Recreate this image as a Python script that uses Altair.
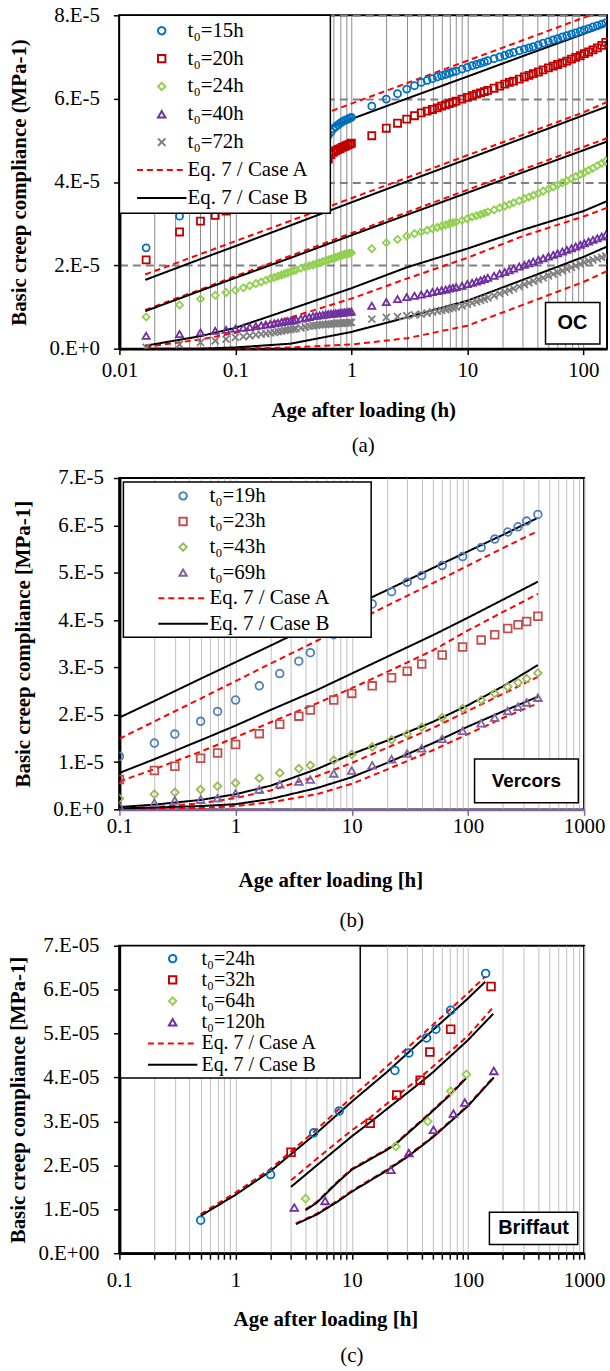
import altair as alt
import pandas as pd

SERIF = "Liberation Serif"
SANS = "Liberation Sans"
CASE_A = "Eq. 7 / Case A"
CASE_B = "Eq. 7 / Case B"
LINE_PATH = "M-6.7,0L6.7,0"
X_PATH = "M-1,-1L1,1M-1,1L1,-1"
NBSP = "\u00a0"
ZWSP = "\u200b"

# ---------------- Panel (a): OC  (compliance in 1e-5 MPa^-1) ----------------
A_LABELS = ["t₀=15h", "t₀=20h", "t₀=24h", "t₀=40h", "t₀=72h"]
A_COLORS = ["#0070C0", "#C00000", "#92D050", "#7030A0", "#7F7F7F"]
A_SHAPES = ["circle", "square", "diamond", "triangle-up", X_PATH]
A_TIME = [0.017, 0.033, 0.05, 0.067, 0.083, 0.1, 0.117, 0.133, 0.15, 0.167,
          0.183, 0.2, 0.217, 0.233, 0.25, 0.267, 0.283, 0.3, 0.317, 0.333,
          0.367, 0.4, 0.433, 0.467, 0.5, 0.533, 0.567, 0.6, 0.633, 0.667,
          0.7, 0.733, 0.767, 0.8, 0.833, 0.867, 0.9, 0.933, 0.967, 1.0,
          1.5, 2, 2.5, 3, 3.5, 4, 4.5, 5, 5.5, 6, 6.5, 7, 7.5, 8, 9, 10,
          11, 12, 13, 14, 15, 17, 19, 21, 23, 25, 28, 31, 34, 37, 41, 45,
          50, 55, 60, 66, 72, 79, 86, 94, 102, 111, 121, 132, 144, 156]
A_15H = [2.42, 3.18, 3.55, 3.72, 3.86, 3.97, 4.06, 4.13, 4.2, 4.26,
         4.31, 4.36, 4.41, 4.45, 4.49, 4.53, 4.56, 4.6, 4.63, 4.66,
         4.72, 4.78, 4.83, 4.88, 4.93, 4.97, 5.02, 5.07, 5.12, 5.2,
         5.28, 5.33, 5.37, 5.41, 5.44, 5.47, 5.49, 5.51, 5.53, 5.55,
         5.82, 5.99, 6.12, 6.23, 6.31, 6.39, 6.44, 6.48, 6.52, 6.55, 6.58, 6.61, 6.64, 6.66, 6.71, 6.75,
         6.79, 6.82, 6.85, 6.88, 6.91, 6.96, 7.0, 7.04, 7.08, 7.11, 7.15, 7.19, 7.22, 7.25, 7.29, 7.33,
         7.37, 7.41, 7.44, 7.48, 7.51, 7.55, 7.58, 7.62, 7.65, 7.68, 7.72, 7.75, 7.79, 7.82]
A_20H = [2.13, 2.80, 3.06, 3.2, 3.3, 3.4, 3.48, 3.55, 3.61, 3.66,
         3.71, 3.76, 3.8, 3.84, 3.88, 3.91, 3.94, 3.97, 4.0, 4.03,
         4.09, 4.15, 4.2, 4.25, 4.3, 4.35, 4.4, 4.46, 4.55, 4.66,
         4.71, 4.75, 4.78, 4.8, 4.83, 4.85, 4.87, 4.89, 4.91, 4.93,
         5.11, 5.29, 5.41, 5.51, 5.59, 5.66, 5.70, 5.74, 5.78, 5.82, 5.85, 5.88, 5.91, 5.94, 5.99, 6.03,
         6.07, 6.11, 6.14, 6.17, 6.20, 6.25, 6.30, 6.35, 6.39, 6.42, 6.47, 6.52, 6.56, 6.60, 6.64, 6.69,
         6.74, 6.78, 6.82, 6.86, 6.90, 6.95, 6.99, 7.03, 7.08, 7.12, 7.17, 7.22, 7.28, 7.35]
A_24H = [0.76, 1.05, 1.19, 1.28, 1.35, 1.40, 1.46, 1.51, 1.56, 1.6,
         1.64, 1.68, 1.71, 1.74, 1.77, 1.8, 1.82, 1.85, 1.87, 1.89,
         1.93, 1.96, 1.99, 2.01, 2.04, 2.06, 2.09, 2.11, 2.13, 2.15,
         2.17, 2.19, 2.21, 2.23, 2.24, 2.26, 2.27, 2.28, 2.29, 2.30,
         2.40, 2.54, 2.62, 2.70, 2.76, 2.80, 2.84, 2.88, 2.91, 2.94, 2.97, 3.00, 3.02, 3.04, 3.08, 3.12,
         3.16, 3.19, 3.22, 3.25, 3.28, 3.33, 3.38, 3.42, 3.46, 3.50, 3.55, 3.60, 3.64, 3.68, 3.73, 3.78,
         3.83, 3.88, 3.93, 3.98, 4.03, 4.08, 4.13, 4.18, 4.23, 4.28, 4.33, 4.39, 4.45, 4.50]
A_40H = [0.31, 0.35, 0.39, 0.43, 0.45, 0.48, 0.5, 0.52, 0.54, 0.56,
         0.58, 0.59, 0.61, 0.62, 0.64, 0.65, 0.66, 0.67, 0.68, 0.7,
         0.72, 0.74, 0.76, 0.78, 0.79, 0.8, 0.81, 0.82, 0.83, 0.84,
         0.84, 0.85, 0.85, 0.86, 0.86, 0.87, 0.87, 0.88, 0.88, 0.89,
         1.03, 1.12, 1.19, 1.24, 1.27, 1.30, 1.33, 1.36, 1.38, 1.40, 1.42, 1.44, 1.46, 1.48, 1.51, 1.55,
         1.58, 1.61, 1.64, 1.67, 1.70, 1.75, 1.80, 1.84, 1.88, 1.92, 1.97, 2.01, 2.05, 2.09, 2.13, 2.17,
         2.21, 2.25, 2.29, 2.33, 2.37, 2.41, 2.45, 2.49, 2.53, 2.57, 2.61, 2.65, 2.69, 2.73]
A_72H = [0.03, 0.10, 0.15, 0.19, 0.23, 0.27, 0.29, 0.31, 0.33, 0.35,
         0.36, 0.38, 0.39, 0.41, 0.42, 0.44, 0.45, 0.46, 0.47, 0.48,
         0.5, 0.52, 0.54, 0.55, 0.56, 0.57, 0.58, 0.58, 0.59, 0.59,
         0.6, 0.6, 0.61, 0.61, 0.61, 0.62, 0.62, 0.62, 0.63, 0.63,
         0.71, 0.75, 0.77, 0.79, 0.81, 0.83, 0.85, 0.88, 0.90, 0.92, 0.94, 0.96, 0.98, 1.00, 1.03, 1.07,
         1.10, 1.13, 1.16, 1.19, 1.22, 1.27, 1.32, 1.36, 1.40, 1.44, 1.49, 1.54, 1.58, 1.62, 1.66, 1.70,
         1.75, 1.79, 1.83, 1.87, 1.91, 1.95, 1.99, 2.03, 2.07, 2.10, 2.13, 2.16, 2.19, 2.22]
A_LINE_T = [0.0167, 0.05, 0.1, 0.3, 1, 3, 10, 30, 100, 160]
A_15H_A = [4.05, 4.54, 4.85, 5.34, 5.88, 6.37, 6.91, 7.40, 7.94, 8.15]
A_15H_B = [3.70, 4.19, 4.49, 4.98, 5.51, 6.00, 6.53, 7.02, 7.55, 7.76]
A_20H_A = [1.78, 2.27, 2.58, 3.07, 3.61, 4.10, 4.64, 5.13, 5.67, 5.92]
A_20H_B = [1.65, 2.15, 2.46, 2.96, 3.51, 4.01, 4.55, 5.05, 5.60, 5.81]
A_24H_A = [0.93, 1.42, 1.74, 2.23, 2.77, 3.27, 3.81, 4.30, 4.84, 5.05]
A_24H_B = [0.90, 1.39, 1.70, 2.18, 2.72, 3.21, 3.74, 4.23, 4.76, 4.97]
A_40H_A = [0.04, 0.22, 0.38, 0.75, 1.20, 1.68, 2.18, 2.70, 3.17, 3.38]
A_40H_B = [0.07, 0.30, 0.50, 0.95, 1.45, 1.95, 2.40, 2.85, 3.30, 3.54]
A_72H_A = [0.0, 0.0, 0.0, 0.03, 0.10, 0.25, 0.55, 1.05, 1.60, 1.86]
A_72H_B = [0.0, 0.0, 0.03, 0.12, 0.40, 0.75, 1.15, 1.65, 2.20, 2.45]

# ---------------- Panel (b): Vercors ----------------
B_LABELS = ["t₀=19h", "t₀=23h", "t₀=43h", "t₀=69h"]
B_COLORS = ["#4F81BD", "#C0504D", "#9BBB59", "#8064A2"]
B_SHAPES = ["circle", "square", "diamond", "triangle-up"]
B_TIME = [0.1, 0.2, 0.3, 0.5, 0.7, 1, 1.6, 2.4, 3.5, 4.4, 7, 10, 15, 22, 30, 40, 60, 90, 130, 170, 220, 270, 320, 400]
B_19H = [1.12, 1.40, 1.59, 1.86, 2.07, 2.31, 2.61, 2.87, 3.13, 3.31, 3.69, 4.02, 4.34, 4.60, 4.80, 4.94, 5.15, 5.34, 5.53, 5.71, 5.86, 5.97, 6.09, 6.23]
B_23H = [0.63, 0.82, 0.91, 1.08, 1.19, 1.37, 1.60, 1.80, 1.97, 2.10, 2.31, 2.45, 2.61, 2.78, 2.92, 3.07, 3.26, 3.43, 3.58, 3.69, 3.82, 3.90, 3.97, 4.08]
B_43H = [0.23, 0.32, 0.36, 0.42, 0.49, 0.56, 0.66, 0.77, 0.86, 0.93, 1.04, 1.16, 1.32, 1.47, 1.59, 1.74, 1.94, 2.13, 2.31, 2.45, 2.59, 2.68, 2.76, 2.88]
B_69H = [0.07, 0.14, 0.19, 0.21, 0.24, 0.34, 0.42, 0.53, 0.59, 0.63, 0.76, 0.82, 0.93, 1.06, 1.18, 1.29, 1.49, 1.66, 1.82, 1.94, 2.08, 2.17, 2.26, 2.36]
B_LINE_T = [0.1, 0.2, 0.5, 1, 2, 5, 10, 20, 50, 100, 200, 400]
B_19H_A = [1.49, 1.86, 2.34, 2.71, 3.08, 3.56, 3.93, 4.30, 4.78, 5.15, 5.52, 5.88]
B_19H_B = [1.94, 2.29, 2.76, 3.11, 3.46, 3.93, 4.28, 4.63, 5.10, 5.45, 5.80, 6.16]
B_23H_A = [0.59, 0.85, 1.22, 1.52, 1.84, 2.24, 2.56, 2.90, 3.36, 3.78, 4.17, 4.55]
B_23H_B = [0.77, 1.06, 1.46, 1.77, 2.10, 2.52, 2.87, 3.22, 3.68, 4.05, 4.43, 4.81]
B_43H_A = [0.02, 0.05, 0.13, 0.24, 0.40, 0.70, 0.98, 1.30, 1.72, 2.08, 2.44, 2.80]
B_43H_B = [0.05, 0.10, 0.20, 0.32, 0.50, 0.85, 1.17, 1.45, 1.85, 2.20, 2.60, 3.05]
B_69H_A = [0.00, 0.01, 0.03, 0.07, 0.15, 0.32, 0.54, 0.84, 1.25, 1.59, 1.93, 2.24]
B_69H_B = [0.02, 0.04, 0.07, 0.11, 0.22, 0.45, 0.68, 0.98, 1.40, 1.75, 2.07, 2.38]

# ---------------- Panel (c): Briffaut ----------------
C_LABELS = ["t₀=24h", "t₀=32h", "t₀=64h", "t₀=120h"]
C_COLORS = ["#0070C0", "#C00000", "#92D050", "#7030A0"]
C_SHAPES = ["circle", "square", "diamond", "triangle-up"]
C_24H_T = [0.5, 2, 4.7, 7.8, 23.5, 31, 44, 53, 71, 142]
C_24H = [0.75, 1.79, 2.74, 3.24, 4.16, 4.56, 4.90, 5.10, 5.53, 6.37]
C_32H_T = [3, 14.4, 24.4, 38.8, 47, 71, 158]
C_32H = [2.30, 2.96, 3.60, 3.94, 4.58, 5.10, 6.07]
C_64H_T = [4, 24, 45, 71, 97]
C_64H = [1.24, 2.43, 3.00, 3.69, 4.07]
C_120H_T = [3.2, 5.9, 21.7, 31, 50.5, 75, 94, 167]
C_120H = [1.04, 1.19, 1.90, 2.28, 2.81, 3.18, 3.43, 4.15]
C_24H_LT = [0.5, 1, 2, 5, 10, 20, 50, 100, 141]
C_24H_A = [0.89, 1.38, 1.92, 2.82, 3.55, 4.25, 5.20, 5.92, 6.30]
C_24H_B = [0.85, 1.33, 1.87, 2.74, 3.45, 4.12, 5.08, 5.80, 6.18]
C_32H_LT = [3, 5, 10, 14.4, 20, 38.8, 50, 100, 165]
C_32H_A = [1.66, 2.15, 2.80, 3.09, 3.40, 4.00, 4.25, 4.95, 5.60]
C_32H_B = [1.51, 2.00, 2.66, 2.98, 3.28, 3.88, 4.12, 4.85, 5.45]
C_64H_LT = [4, 5, 7.6, 10, 20, 24, 45, 70, 97]
C_64H_A = [1.00, 1.17, 1.64, 1.92, 2.37, 2.51, 3.15, 3.62, 4.01]
C_64H_B = [0.98, 1.15, 1.62, 1.90, 2.35, 2.49, 3.13, 3.60, 3.99]
C_120H_LT = [3.3, 5, 7.6, 10, 20, 30, 50, 100, 167]
C_120H_A = [0.68, 0.90, 1.20, 1.42, 1.90, 2.21, 2.66, 3.37, 4.02]
C_120H_B = [0.66, 0.88, 1.18, 1.40, 1.88, 2.19, 2.64, 3.35, 4.00]


def points_frame(labels, times, values):
    rows = []
    for lab, ts, vs in zip(labels, times, values):
        for t, v in zip(ts, vs):
            rows.append({"t": t, "c": v, "key": lab})
    return pd.DataFrame(rows)


def lines_frame(labels, times, a_vals, b_vals):
    rows = []
    for kind, vals in ((CASE_A, a_vals), (CASE_B, b_vals)):
        for lab, ts, vs in zip(labels, times, vals):
            for t, v in zip(ts, vs):
                rows.append({"t": t, "c": v, "key": kind, "curve": kind + lab})
    return pd.DataFrame(rows)


def minor_values(lo_exp, hi_exp, last):
    vals = []
    for e in range(lo_exp, hi_exp + 1):
        for m in range(1, 10):
            v = round(m * 10 ** e, 6)
            if v <= last:
                vals.append(v)
    return vals


DECADES = "[0.01, 0.1, 1, 10, 100, 1000]"


def build_panel(p):
    domain = p["labels"] + [CASE_A, CASE_B]
    n = len(p["labels"])
    color_scale = alt.Scale(domain=domain, range=p["colors"] + ["#FF0000", "#000000"])
    shape_scale = alt.Scale(domain=domain, range=p["shapes"] + [LINE_PATH, LINE_PATH])
    dash_scale = alt.Scale(domain=domain, range=[[1, 0]] * n + [[6, 4], [1, 0]])
    leg = alt.Legend(
        title=None, orient="none", legendX=p["legX"], legendY=p["legY"],
        fillColor="white", strokeColor="black", padding=p["legPad"],
        rowPadding=p["rowPad"], labelFont=SERIF, labelFontSize=p["legFont"],
        labelColor="black", labelLimit=500, symbolSize=55, symbolStrokeWidth=2,
        symbolOffset=p["symOff"], labelOffset=p["labOff"], symbolFillColor="transparent",
        labelExpr="datum.label + '" + NBSP * p["nbsp"] + ZWSP + "'",
    )
    xs = alt.Scale(type="log", domain=p["xdomain"], nice=False)
    ys = alt.Scale(domain=[0, p["ymax"]], nice=False)
    tick_cond = {"condition": {"test": "indexof(" + DECADES + ", datum.value) >= 0", "value": 1},
                 "value": p["minorTickOpacity"]}
    xaxis = alt.Axis(
        values=p["xvalues"], grid=True, gridColor=p["gridColor"], gridWidth=1,
        labelExpr="indexof(" + DECADES + ", datum.value) >= 0 ? '' + datum.value : ''",
        labelOverlap=False, labelFlush=False, labelFont=SERIF, labelFontSize=21,
        labelColor="black", labelPadding=p["xLabPad"], tickColor=p["xAxisColor"],
        tickOpacity=tick_cond, tickSize=6, tickWidth=1.5,
        domainColor=p["xAxisColor"], domainWidth=2.5,
        titleFont=SERIF, titleFontSize=21, titleFontWeight="bold", titleColor="black",
        titlePadding=p["xTitlePad"], titleX=p["xTitleX"],
    )
    yaxis = alt.Axis(
        values=list(range(0, p["ymax"] + 1, p["ystep"])), grid=p["ygrid"],
        gridColor="#808080", gridDash=[8, 5], gridWidth=2,
        labelExpr="datum.value == 0 ? '" + p["zero"] + "' : datum.value + '" + p["suffix"] + "'",
        labelFlush=False, labelFont=SERIF, labelFontSize=21, labelColor="black",
        labelPadding=p["yLabPad"], tickColor="black", tickSize=6, tickWidth=1.5,
        domainColor="black", domainWidth=3,
        titleFont=SERIF, titleFontSize=21, titleFontWeight="bold", titleColor="black",
        titlePadding=p["yTitlePad"],
    )
    x = alt.X("t:Q", scale=xs, axis=xaxis, title=p["xtitle"])
    y = alt.Y("c:Q", scale=ys, axis=yaxis, title=p["ytitle"])
    lines = alt.Chart(p["lines"]).mark_line(clip=True, strokeWidth=2).encode(
        x=x, y=y,
        color=alt.Color("key:N", scale=color_scale, legend=leg),
        strokeDash=alt.StrokeDash("key:N", scale=dash_scale, legend=leg),
        detail="curve:N",
    )
    pts = alt.Chart(p["points"]).mark_point(
        filled=False, size=p["ptSize"], strokeWidth=1.8, opacity=1, clip=True
    ).encode(
        x=x, y=y,
        color=alt.Color("key:N", scale=color_scale, legend=leg),
        shape=alt.Shape("key:N", scale=shape_scale, legend=leg),
    )
    box_df = pd.DataFrame([p["box"]])
    box = alt.Chart(box_df).mark_rect(fill="white", stroke="black", strokeWidth=1.5).encode(
        x=alt.X("x0:Q", scale=xs, axis=xaxis, title=p["xtitle"]), x2="x1:Q",
        y=alt.Y("y0:Q", scale=ys, axis=yaxis, title=p["ytitle"]), y2="y1:Q",
    )
    txt = alt.Chart(box_df).mark_text(font=SANS, fontWeight="bold", fontSize=p["boxFont"],
                                      color="black").encode(
        x=alt.X("xm:Q", scale=xs, axis=xaxis, title=p["xtitle"]),
        y=alt.Y("ym:Q", scale=ys, axis=yaxis, title=p["ytitle"]),
        text="label:N",
    )
    return alt.layer(lines, pts, box, txt).properties(
        width=p["w"], height=p["h"],
        title=alt.TitleParams(p["caption"], orient="bottom", font=SERIF, fontSize=21,
                              fontWeight="normal", color="black", offset=p["capOff"]),
    )


panel_a = build_panel(dict(
    labels=A_LABELS, colors=A_COLORS, shapes=A_SHAPES,
    points=points_frame(A_LABELS, [A_TIME] * 5, [A_15H, A_20H, A_24H, A_40H, A_72H]),
    lines=lines_frame(A_LABELS, [A_LINE_T] * 5,
                      [A_15H_A, A_20H_A, A_24H_A, A_40H_A, A_72H_A],
                      [A_15H_B, A_20H_B, A_24H_B, A_40H_B, A_72H_B]),
    xdomain=[0.01, 160], xvalues=minor_values(-2, 2, 160), ymax=8, ystep=2, ygrid=True,
    zero="0.E+0", suffix=".E-5", gridColor="#8C8C8C", xAxisColor="black", minorTickOpacity=0,
    xtitle="Age after loading (h)", ytitle="Basic creep compliance  (MPa-1)",
    w=490, h=335, ptSize=50,
    legX=0, legY=0, legPad=5, rowPad=6, legFont=21, symOff=27, labOff=15.5, nbsp=3,
    xLabPad=5, xTitlePad=19, xTitleX=245, yLabPad=14, yTitlePad=19,
    box=dict(x0=47.2, x1=139, y0=0.11, y1=1.106, xm=80.5, ym=0.61, label="OC"), boxFont=20,
    caption="(a)", capOff=15,
))

panel_b = build_panel(dict(
    labels=B_LABELS, colors=B_COLORS, shapes=B_SHAPES,
    points=points_frame(B_LABELS, [B_TIME] * 4, [B_19H, B_23H, B_43H, B_69H]),
    lines=lines_frame(B_LABELS, [B_LINE_T] * 4,
                      [B_19H_A, B_23H_A, B_43H_A, B_69H_A],
                      [B_19H_B, B_23H_B, B_43H_B, B_69H_B]),
    xdomain=[0.1, 1000], xvalues=minor_values(-1, 3, 1000), ymax=7, ystep=1, ygrid=False,
    zero="0.E+0", suffix=".E-5", gridColor="#BFBFBF", xAxisColor="#8064A2", minorTickOpacity=0,
    xtitle="Age after loading [h]", ytitle="Basic creep compliance [MPa-1]",
    w=467, h=333, ptSize=60,
    legX=4, legY=4, legPad=3.5, rowPad=3.7, legFont=21, symOff=46, labOff=16, nbsp=7,
    xLabPad=0, xTitlePad=33, xTitleX=212, yLabPad=10, yTitlePad=19,
    box=dict(x0=114, x1=891, y0=0.139, y1=1.063, xm=318, ym=0.6, label="Vercors"), boxFont=19,
    caption="(b)", capOff=20,
))

panel_c = build_panel(dict(
    labels=C_LABELS, colors=C_COLORS, shapes=C_SHAPES,
    points=points_frame(C_LABELS, [C_24H_T, C_32H_T, C_64H_T, C_120H_T],
                        [C_24H, C_32H, C_64H, C_120H]),
    lines=lines_frame(C_LABELS, [C_24H_LT, C_32H_LT, C_64H_LT, C_120H_LT],
                      [C_24H_A, C_32H_A, C_64H_A, C_120H_A],
                      [C_24H_B, C_32H_B, C_64H_B, C_120H_B]),
    xdomain=[0.1, 1000], xvalues=minor_values(-1, 3, 1000), ymax=7, ystep=1, ygrid=False,
    zero="0.E+00", suffix=".E-05", gridColor="#BFBFBF", xAxisColor="black", minorTickOpacity=1,
    xtitle="Age after loading [h]", ytitle="Basic creep compliance [MPa-1]",
    w=467, h=309, ptSize=60,
    legX=1, legY=0, legPad=3, rowPad=1.3, legFont=20, symOff=39.5, labOff=19, nbsp=8,
    xLabPad=10, xTitlePad=19, xTitleX=207, yLabPad=14.5, yTitlePad=9,
    box=dict(x0=153, x1=881, y0=0.2, y1=0.93, xm=367, ym=0.57, label="Briffaut"), boxFont=20,
    caption="(c)", capOff=15,
))

INDEP = dict(color="independent", shape="independent", strokeDash="independent")

lower = alt.vconcat(panel_b, panel_c, spacing=2).resolve_scale(**INDEP).resolve_legend(**INDEP)

chart = alt.vconcat(panel_a, lower, spacing=9).resolve_scale(**INDEP).resolve_legend(
    **INDEP
).properties(
    padding={"left": 7, "top": 0, "right": 2, "bottom": 0}, background="white"
).configure_view(stroke="black", strokeWidth=2).configure_legend(strokeWidth=1.5)

chart.save("out.html", embed_options={"renderer": "svg", "actions": False})
